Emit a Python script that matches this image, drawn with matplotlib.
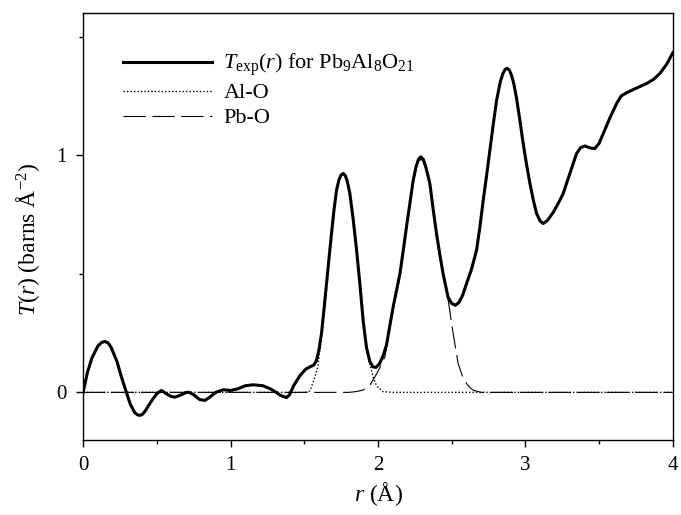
import matplotlib
matplotlib.use("Agg")
import matplotlib.pyplot as plt

plt.rcParams['font.family'] = ['Liberation Serif', 'DejaVu Serif']
plt.rcParams['mathtext.fontset'] = 'custom'
plt.rcParams['mathtext.rm'] = 'Liberation Serif'
plt.rcParams['mathtext.it'] = 'Liberation Serif:italic'

# measured total correlation function T(r)
r_exp = [0.00, 0.03, 0.06, 0.10, 0.125, 0.147, 0.17, 0.19, 0.23, 0.26, 0.294, 0.32,
         0.35, 0.37, 0.385, 0.40, 0.42, 0.46, 0.50, 0.532, 0.57, 0.60, 0.622, 0.66,
         0.70, 0.72, 0.75, 0.79, 0.826, 0.86, 0.90, 0.95, 1.00, 1.05, 1.10, 1.153,
         1.22, 1.27, 1.31, 1.34, 1.38, 1.40, 1.43, 1.47, 1.51, 1.54, 1.565, 1.583,
         1.60, 1.617, 1.634, 1.651, 1.668, 1.685, 1.702, 1.719, 1.735, 1.75, 1.764,
         1.778, 1.792, 1.809, 1.832, 1.855, 1.877, 1.90, 1.922, 1.945, 1.965, 1.986,
         2.01, 2.035, 2.058, 2.08, 2.103, 2.126, 2.149, 2.172, 2.194, 2.217, 2.239,
         2.258, 2.275, 2.291, 2.307, 2.325, 2.352, 2.375, 2.397, 2.42, 2.442, 2.476,
         2.50, 2.525, 2.55, 2.575, 2.601, 2.635, 2.669, 2.692, 2.714, 2.737, 2.759,
         2.782, 2.805, 2.83, 2.848, 2.863, 2.877, 2.892, 2.907, 2.922, 2.94, 2.962,
         2.985, 3.008, 3.031, 3.054, 3.076, 3.10, 3.121, 3.15, 3.19, 3.234, 3.256,
         3.30, 3.347, 3.375, 3.404, 3.44, 3.471, 3.50, 3.528, 3.575, 3.619, 3.65,
         3.686, 3.75, 3.822, 3.87, 3.913, 3.96, 4.00]
t_exp = [0.00, 0.085, 0.145, 0.195, 0.21, 0.215, 0.208, 0.19, 0.13, 0.065, 0.00, -0.05,
         -0.085, -0.095, -0.097, -0.094, -0.08, -0.04, -0.005, 0.008, -0.008, -0.018, -0.02, -0.012,
         0.0, 0.0, -0.01, -0.03, -0.034, -0.02, 0.0, 0.011, 0.008, 0.015, 0.028, 0.032,
         0.028, 0.015, 0.0, -0.013, -0.022, -0.01, 0.03, 0.07, 0.098, 0.108, 0.115, 0.135,
         0.18, 0.248, 0.35, 0.459, 0.565, 0.67, 0.77, 0.852, 0.895, 0.917, 0.923,
         0.915, 0.89, 0.84, 0.73, 0.60, 0.46, 0.30, 0.19, 0.13, 0.108, 0.105,
         0.12, 0.155, 0.20, 0.28, 0.36, 0.43, 0.50, 0.60, 0.70, 0.80, 0.894,
         0.95, 0.983, 0.993, 0.983, 0.95, 0.88, 0.77, 0.67, 0.58, 0.50, 0.40,
         0.375, 0.367, 0.38, 0.41, 0.459, 0.52, 0.60, 0.70, 0.81, 0.915, 1.021,
         1.13, 1.232, 1.31, 1.345, 1.362, 1.366, 1.358, 1.335, 1.30, 1.24, 1.15,
         1.049, 0.96, 0.88, 0.81, 0.754, 0.722, 0.712, 0.725, 0.76, 0.81, 0.838,
         0.92, 1.007, 1.032, 1.039, 1.03, 1.028, 1.05, 1.091, 1.16, 1.218, 1.25,
         1.263, 1.282, 1.302, 1.32, 1.345, 1.385, 1.432]

# Al-O partial
r_alo = [0.0, 1.50, 1.535, 1.549, 1.572, 1.594, 1.617, 1.634, 1.651, 1.668, 1.685,
         1.702, 1.719, 1.735, 1.75, 1.764, 1.778, 1.792, 1.809, 1.832, 1.855, 1.877,
         1.90, 1.922, 1.945, 1.956, 1.967, 1.984, 2.001, 2.035, 2.10, 4.0]
t_alo = [0.0, 0.0, 0.005, 0.022, 0.065, 0.114, 0.24, 0.345, 0.455, 0.56, 0.665,
         0.765, 0.848, 0.89, 0.912, 0.918, 0.91, 0.885, 0.835, 0.725, 0.595, 0.455,
         0.295, 0.185, 0.12, 0.093, 0.065, 0.037, 0.02, 0.003, 0.0, 0.0]

# Pb-O partial
r_pbo = [0.0, 1.80, 1.85, 1.90, 1.945, 1.979, 2.01, 2.047, 2.08, 2.103, 2.126, 2.149,
         2.172, 2.194, 2.217, 2.239, 2.258, 2.275, 2.291, 2.307, 2.325, 2.352, 2.375,
         2.397, 2.42, 2.442, 2.476, 2.51, 2.544, 2.575, 2.601, 2.624, 2.65, 2.70, 4.0]
t_pbo = [0.0, 0.0, 0.003, 0.01, 0.03, 0.065, 0.10, 0.15, 0.265, 0.35, 0.42, 0.49,
         0.59, 0.69, 0.79, 0.885, 0.94, 0.973, 0.983, 0.973, 0.94, 0.87, 0.76,
         0.66, 0.57, 0.49, 0.39, 0.248, 0.121, 0.065, 0.037, 0.02, 0.008, 0.0, 0.0]

fig = plt.figure(figsize=(6.81, 5.15), dpi=100)
ax = fig.add_axes([0.122, 0.146, 0.866, 0.829])

ax.plot(r_exp, t_exp, color='black', lw=2.2, solid_joinstyle='round',
        label=r'$T_{\rm exp}(r)$ for Pb$_9$Al$_8$O$_{21}$')
ax.plot(r_alo, t_alo, color='black', lw=1.0, linestyle=(0, (1, 1.5)), label='Al-O')
ax.plot(r_pbo, t_pbo, color='black', lw=0.8, dashes=[20, 6], label='Pb-O')

ax.set_xticks([0, 1, 2, 3, 4])
ax.set_xticks([0.5, 1.5, 2.5, 3.5], minor=True)
ax.set_yticks([0, 1])
ax.set_yticks([0.5, 1.5], minor=True)
ax.set_xlim(0, 4)
ax.set_ylim(-0.2, 1.6)
ax.tick_params(which='both', direction='out', top=False, right=False, labelsize=15, pad=7)
ax.tick_params(which='major', length=5, width=1)
ax.tick_params(which='minor', length=3, width=1)
for s in ax.spines.values():
    s.set_linewidth(1.0)

ax.set_xlabel(r'$r$ (Å)', fontsize=17, labelpad=3)
ax.set_ylabel(r'$T(r)$ (barns Å$^{-2}$)', fontsize=17, labelpad=7)
ax.yaxis.set_label_coords(-0.07, 0.47)

ax.legend(loc='upper left', frameon=False, fontsize=16, handlelength=4.0,
          handletextpad=0.5, labelspacing=0.2, borderaxespad=0.3,
          bbox_to_anchor=(0.042, 0.945))

fig.savefig('out.png', dpi=100)
